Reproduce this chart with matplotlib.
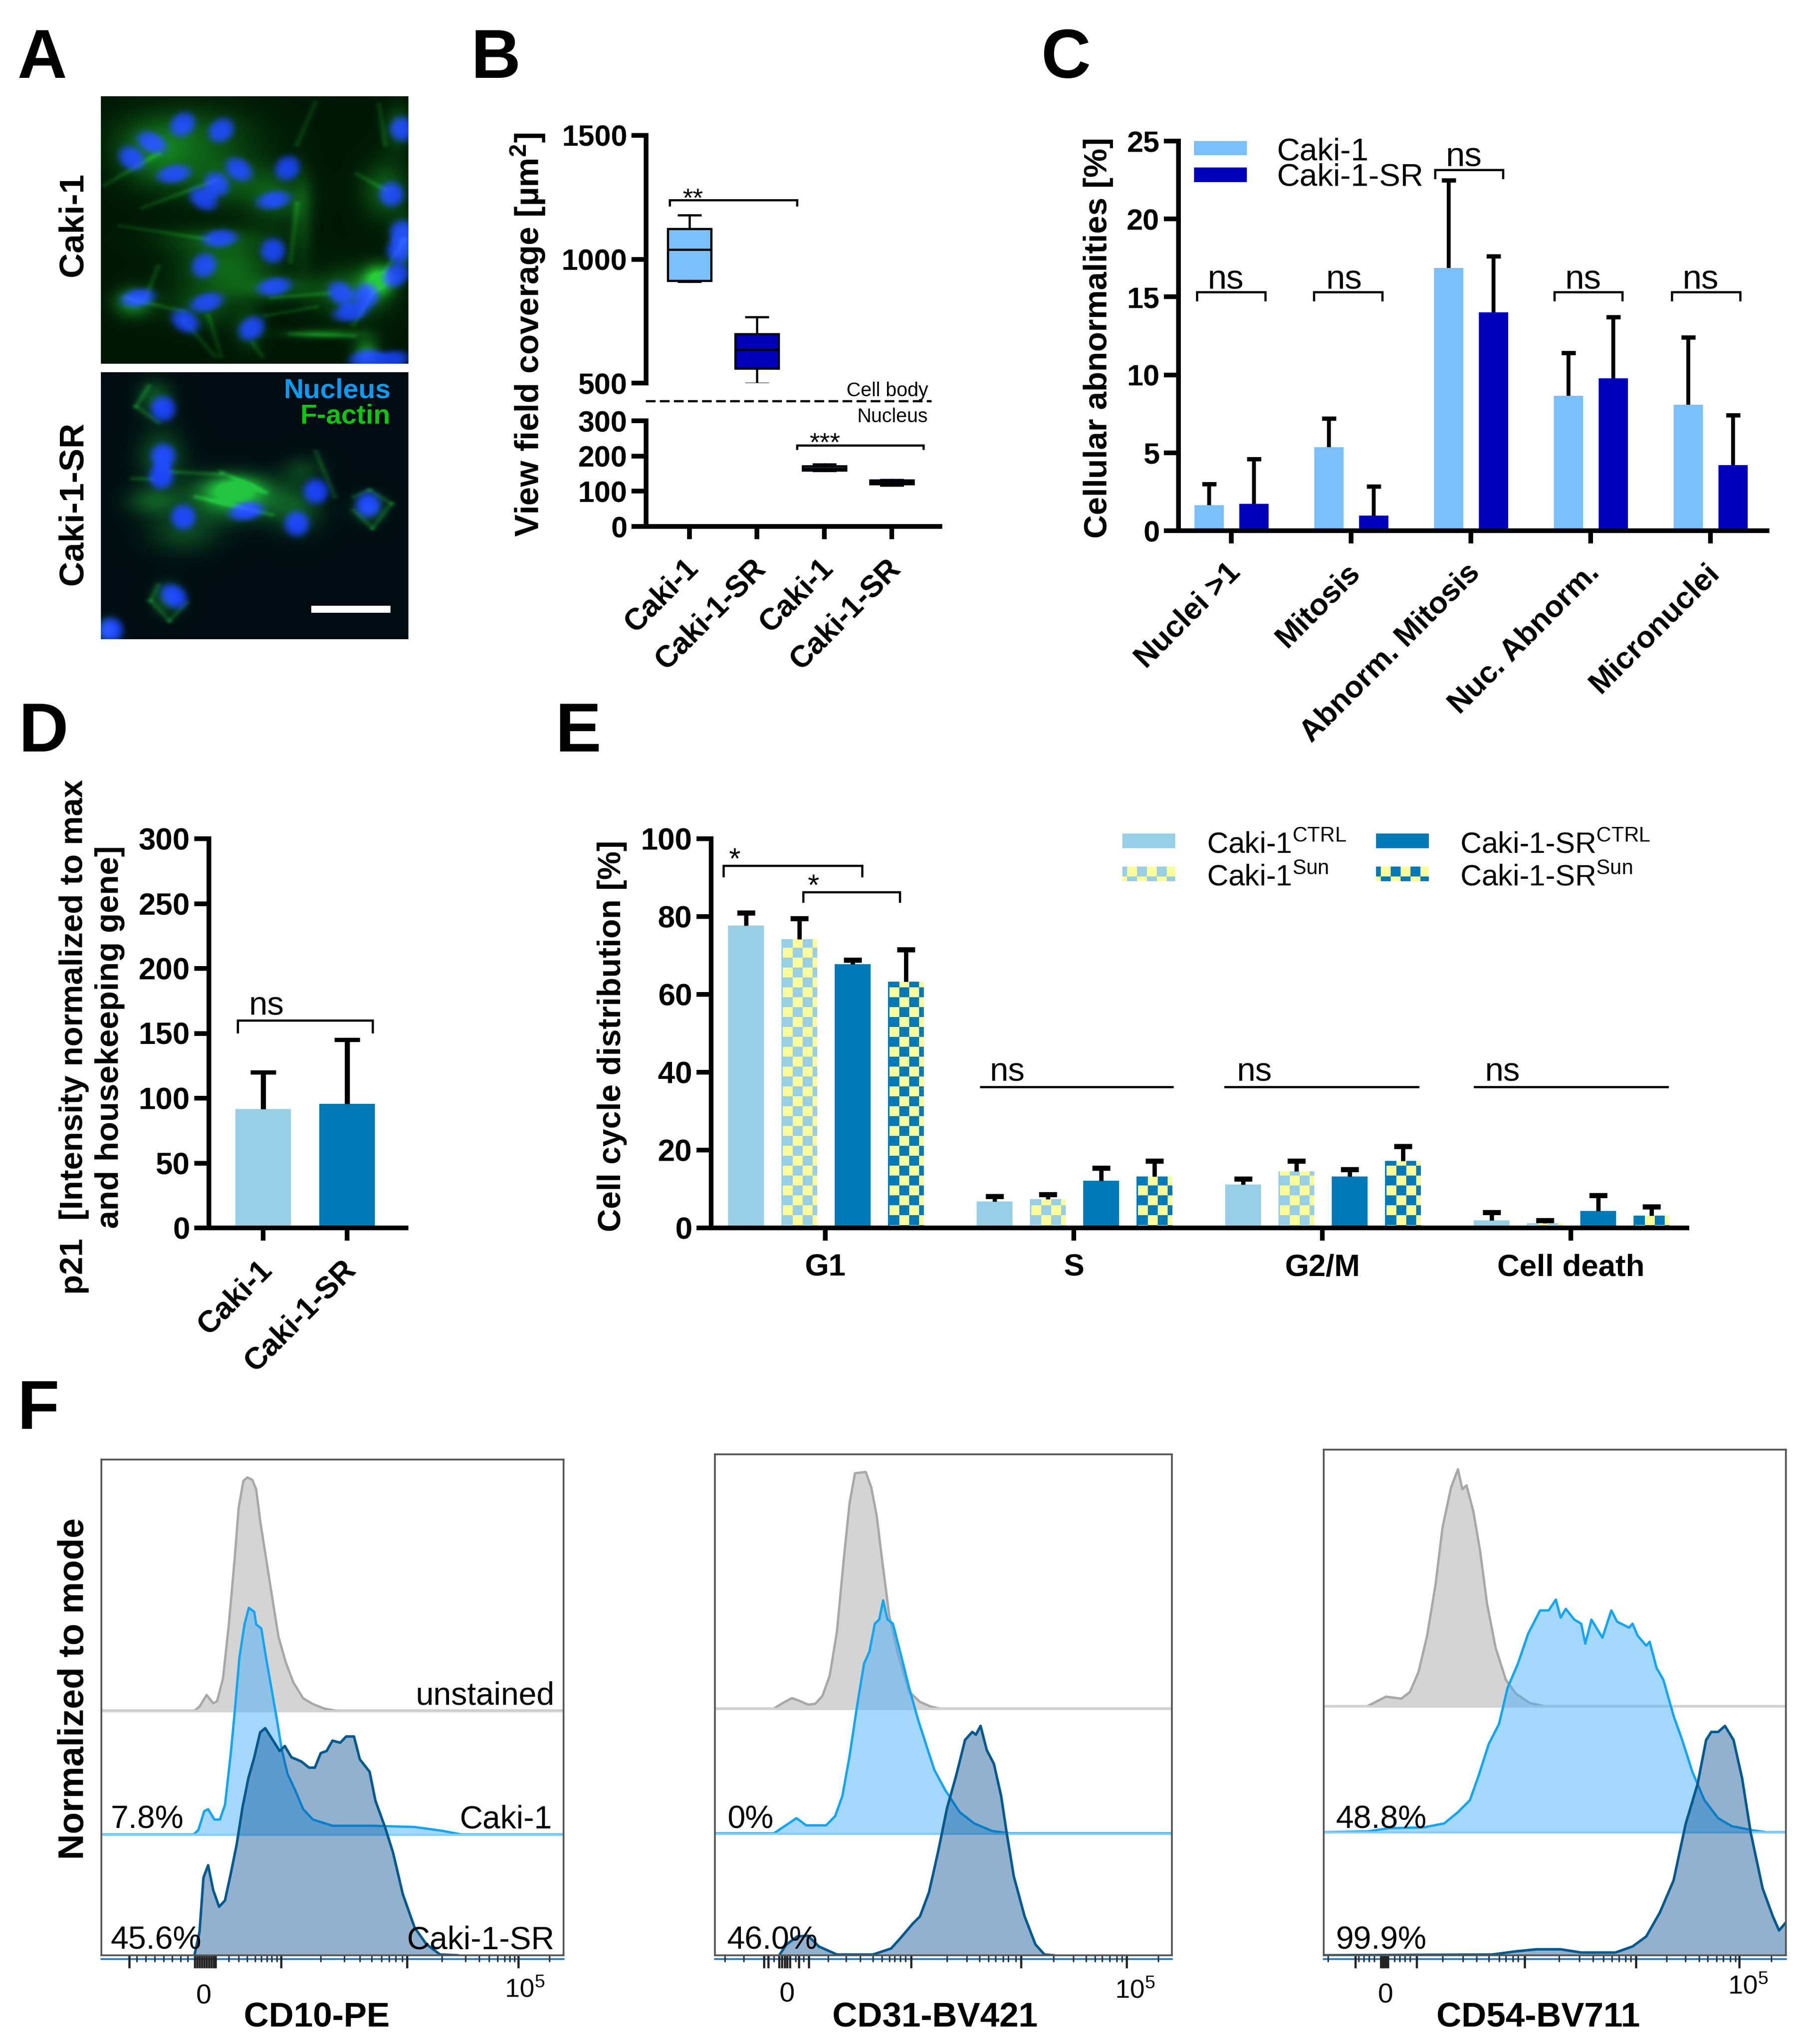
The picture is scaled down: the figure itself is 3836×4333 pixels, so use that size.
import numpy as np
import matplotlib
matplotlib.use('Agg')
import matplotlib.pyplot as plt
from matplotlib.lines import Line2D
from matplotlib.patches import Rectangle

# ---- panel A: things (zoom coordinates)
nuclei_top = [(289,275,15),(350,288,15),(240,315,-40),(208,350,-20),(275,385,70),(378,375,-25),(455,372,10),
  (343,408,-10),(322,440,-30),(433,443,70),(620,430,0),(348,528,80),(432,555,0),(323,588,10),(637,515,0),
  (632,555,0),(627,610,20),(434,635,70),(327,670,60),(218,660,70),(540,650,-20),(580,655,0),(555,692,70),
  (293,712,-30),(398,728,20),(637,285,0),(580,795,70),(620,798,70)]
bodies_top = [(300,300,110,70,.42),(240,350,60,70,.38),(350,400,80,60,.4),(440,440,50,60,.38),(610,420,40,70,.45),
  (340,530,100,32,.33),(360,590,80,50,.5),(430,640,80,30,.35),(210,670,32,35,.65),(320,680,60,50,.35),
  (560,650,60,60,.5),(600,620,25,35,.95),(395,730,25,50,.3),(580,780,22,35,.6),(640,540,20,50,.6),
  (510,740,60,12,.45),(630,280,22,50,.4),(480,480,16,110,.25)]
fibres_top = [((190,500),(330,530)),((470,450),(460,580)),((565,385),(610,420)),((640,530),(560,720)),
  ((200,660),(290,690)),((330,700),(350,790)),((470,320),(500,225)),((430,660),(520,650)),((420,700),(500,680)),
  ((600,230),(610,320)),((250,340),(165,410)),((250,590),(230,660)),((290,710),(340,790)),((460,740),(560,745)),
  ((225,460),(340,400)),((400,760),(415,790))]
nuclei_bot = [(258,905,0),(258,1010,0),(255,1055,0),(290,1145,0),(390,1132,70),(500,1088,0),(470,1160,0),
  (583,1118,0),(275,1320,-20),(175,1395,0)]
bodies_bot = [(245,880,30,42,.45),(255,1010,40,65,.45),(370,1100,70,50,.85),(370,1080,45,28,.5),(290,1180,60,50,.38),
  (470,1130,45,55,.42),(480,1040,35,35,.3),(585,1125,26,32,.5),(265,1325,25,36,.5),(170,1395,16,24,.7),(240,1110,45,35,.42)]
fibres_bot = [((250,1295),(238,1330)),((238,1330),(268,1375)),((268,1375),(295,1335)),((560,1100),(585,1085)),
  ((585,1085),(620,1115)),((620,1115),(590,1170)),((590,1170),(560,1130)),((270,1045),(350,1050)),((235,855),(215,900)),
  ((215,900),(250,935)),((310,1100),(430,1140)),((350,1045),(420,1090)),((240,1060),(210,1060)),((530,1100),(500,1000))]

# ---- panel B
b_labels = ['Caki-1', 'Caki-1-SR', 'Caki-1', 'Caki-1-SR']
b_med = [1040, 635, 165, 125]
b_q1 = [914, 559, 160, 120]
b_q3 = [1122, 698, 171, 131]
b_lo = [910, 498, 158, 116]
b_hi = [1178, 766, 177, 133]

# ---- panel C
c_labels = ['Nuclei >1', 'Mitosis', 'Abnorm. Mitosis', 'Nuc. Abnorm.', 'Micronuclei']
c_caki = [1.64, 5.36, 16.87, 8.67, 8.08]
c_caki_top = [3.0, 7.2, 22.5, 11.4, 12.4]
c_sr = [1.73, 0.96, 14.0, 9.78, 4.2]
c_sr_top = [4.6, 2.85, 17.6, 13.7, 7.43]

# ---- panel D
d_labels = ['Caki-1', 'Caki-1-SR']
d_vals = [91.5, 95.5]
d_tops = [120, 145]

# ---- panel E
e_labels = ['G1', 'S', 'G2/M', 'Cell death']
e_ctrl = [77.7, 6.75, 11.2, 2.0]
e_ctrl_top = [81, 8.1, 12.6, 4.0]
e_sun = [74.2, 7.4, 14.5, 1.25]
e_sun_top = [79.5, 8.6, 17.2, 2.0]
e_sr = [67.8, 12.1, 13.2, 4.4]
e_sr_top = [68.8, 15.4, 15, 8.4]
e_srsun = [63.3, 13.2, 17.2, 3.2]
e_srsun_top = [71.5, 17.2, 21, 5.4]

# ---- panel F, histograms: x is channel as read, h is height above each trace's baseline
f1_gray_x = [259,497,510,528,545,555,570,585,600,610,622,632,645,655,665,680,695,712,730,750,775,800,830,860,1441]
f1_gray_h = [0,0,10,38,18,23,78,208,368,488,553,562,556,533,458,368,278,178,118,68,30,16,5,0,0]
f1_blue_x = [259,495,507,522,532,548,562,575,590,600,612,625,636,650,655,668,680,695,708,720,735,755,775,800,850,950,1060,1130,1180,1441]
f1_blue_h = [0,0,11,56,61,36,36,71,196,296,426,506,546,536,506,496,426,346,276,206,146,106,61,36,21,21,18,9,0,0]
f1_dark_x = [497,510,520,532,545,560,575,590,605,620,635,650,665,678,695,715,728,745,770,790,805,820,835,850,870,885,905,920,945,960,985,1005,1030,1060,1090,1125,1170]
f1_dark_h = [0,57,187,217,157,117,132,197,267,357,427,477,537,547,522,492,504,477,467,452,452,487,492,517,512,527,527,472,442,372,307,247,147,67,27,2,0]

f2_gray_x = [152,315,340,365,385,410,430,450,470,490,510,525,540,570,585,600,615,635,660,690,720,750,775,1418]
f2_gray_h = [0,0,14,26,20,10,12,32,82,192,382,512,587,590,552,482,372,232,132,42,17,5,0,0]
f2_blue_x = [152,315,345,378,405,460,485,505,525,545,565,580,595,607,618,630,645,665,690,715,740,760,790,830,870,920,970,1418]
f2_blue_h = [0,0,18,38,20,20,43,93,193,313,423,453,523,533,581,533,523,453,363,283,213,158,108,53,25,6,0,0]
f2_dark_x = [330,350,380,410,440,490,590,640,670,700,720,745,770,795,820,845,865,875,888,905,925,945,960,980,1010,1040,1065,1090]
f2_dark_h = [0,27,47,49,22,2,2,17,47,79,97,157,257,367,447,537,557,550,572,512,477,397,307,197,97,27,2,0]

f3_gray_x = [148,275,300,330,375,400,425,450,475,495,520,540,553,565,585,605,625,650,680,710,750,795,1498]
f3_gray_h = [0,0,11,24,19,36,86,176,306,446,546,591,541,551,486,386,256,146,66,31,8,0,0]
f3_blue_x = [148,275,340,440,500,540,575,600,630,660,685,715,745,780,805,826,840,855,880,900,912,930,962,988,1005,1040,1050,1065,1090,1100,1120,1140,1170,1195,1225,1260,1300,1340,1400,1440,1498]
f3_blue_h = [0,2,10,12,22,50,80,140,220,270,360,420,495,553,553,580,535,557,530,520,470,530,485,553,525,510,520,490,465,475,410,380,290,230,150,80,35,15,5,0,0]
f3_dark_x = [148,640,710,770,840,900,1000,1050,1090,1130,1170,1205,1240,1265,1280,1300,1320,1345,1370,1395,1430,1460,1478,1498]
f3_dark_h = [0,2,10,15,15,7,7,22,47,107,187,327,427,537,557,557,572,537,442,307,167,97,62,82]

f1_major = [330,498,504,510,516,522,528,534,540,546,551,718,1040,1325]
f1_minor = [350,372,395,418,440,462,480,585,610,632,652,668,682,695,708,820,880,920,950,975,995,1012,1028,1130,1190,1225,1250,1272,1290,1303,1315,1405]
f2_major = [288,300,330,338,345,352,360,385,412,695,1000,1292]
f2_minor = [180,232,315,375,398,465,515,555,590,615,635,650,665,680,795,850,885,910,930,950,965,985,1090,1145,1180,1205,1225,1245,1265,1280,1380]
f3_major = [240,315,320,325,330,335,420,735,1060,1362]
f3_minor = [160,250,265,280,295,355,370,385,400,495,555,595,630,660,680,700,715,835,895,935,965,990,1010,1030,1045,1150,1205,1245,1270,1295,1315,1335,1350,1455]

W, H = 3837, 4333
BLUE_L, BLUE_D = '#7bbffb', '#0000bb'
CY_L, CY_D = '#98cfe6', '#0079b8'
YEL = '#fdfd99'
LW = 2.4

plt.rcParams['font.family'] = ['Liberation Sans', 'DejaVu Sans']
plt.rcParams['mathtext.fontset'] = 'custom'
plt.rcParams['mathtext.rm'] = 'Liberation Sans'
plt.rcParams['mathtext.bf'] = 'Liberation Sans:bold'
plt.rcParams['mathtext.default'] = 'regular'

fig = plt.figure(figsize=(W / 300, H / 300), dpi=300)


def add_ax(x0, y0, x1, y1):
  return fig.add_axes([x0 / W, 1 - y1 / H, (x1 - x0) / W, (y1 - y0) / H])


def txt(x, y, s, **kw):
  return fig.text(x / W, 1 - y / H, s, **kw)


def prism(ax, size=15.7):
  ax.spines['top'].set_visible(False)
  ax.spines['right'].set_visible(False)
  for s in ('left', 'bottom'):
    ax.spines[s].set_linewidth(LW)
    ax.spines[s].set_zorder(6)
  ax.tick_params(width=LW, length=7.4, pad=2.2, labelsize=size)


def bold_ticks(ax):
  plt.setp(ax.get_xticklabels(), fontweight='bold')
  plt.setp(ax.get_yticklabels(), fontweight='bold')


def rot_labels(ax, ticks, labels, size=15.5):
  # slanted labels sit a little right of the tick, so they are placed by hand
  ax.set_xticks(ticks)
  ax.set_xticklabels([])
  for t, lab in zip(ticks, labels):
    ax.annotate(lab, (t, 0), xycoords=('data', 'axes fraction'), xytext=(2.2, -19), textcoords='offset points',
                rotation=45, ha='right', va='center', rotation_mode='anchor', fontsize=size, fontweight='bold')


def up_err(ax, x, y, top, ms, mew, lw):
  ax.vlines(x, y, top, color='k', lw=lw, zorder=3)
  ax.plot(x, top, '_', color='k', ms=ms, mew=mew, zorder=3, clip_on=False)


def bracket(ax, x0, x1, y, drop0, drop1=None):
  if drop1 is None:
    drop1 = drop0
  ax.plot([x0, x0, x1, x1], [drop0, y, y, drop1], color='k', lw=1.1, clip_on=False, zorder=4, solid_joinstyle='miter')


def checker(ax, x0, y0, cols, rows, dx, dy, base, clip=None):
  arr = np.zeros((rows, cols, 3))
  c0 = np.array(matplotlib.colors.to_rgb(YEL))
  c1 = np.array(matplotlib.colors.to_rgb(base))
  for r in range(rows):
    for c in range(cols):
      arr[r, c] = c0 if (r + c) % 2 == 0 else c1
  im = ax.imshow(arr, extent=(x0, x0 + cols * dx, y0, y0 + rows * dy), origin='lower', aspect='auto',
                 interpolation='nearest', zorder=2.5)
  if clip is not None:
    im.set_clip_path(clip)
  return im


def micrograph(box, nuclei, bodies, fibres, bg, famp):
  x0, y0, x1, y1 = box
  xx, yy = np.meshgrid(np.arange(x0, x1, 1.5), np.arange(y0, y1, 1.5))
  g = np.zeros_like(xx)
  for cx, cy, rx, ry, a in bodies:
    g += a * np.exp(-((xx - cx) / rx) ** 2 - ((yy - cy) / ry) ** 2)
  for (ax_, ay), (bx, by) in fibres:
    dx, dy = bx - ax_, by - ay
    t = np.clip(((xx - ax_) * dx + (yy - ay) * dy) / (dx * dx + dy * dy), 0, 1)
    d2 = (xx - ax_ - t * dx) ** 2 + (yy - ay - t * dy) ** 2
    g += famp * np.exp(-d2 / 30)
  n = np.zeros_like(xx)
  for cx, cy, ang in nuclei:
    c, s = np.cos(np.radians(ang)), np.sin(np.radians(ang))
    u = (xx - cx) * c + (yy - cy) * s
    v = -(xx - cx) * s + (yy - cy) * c
    n += np.exp(-((u / 20) ** 2 + (v / 28) ** 2) ** 2)
  n = np.clip(n, 0, 1)
  g = np.clip(g, 0, 1) ** 1.25
  img = np.dstack([0.14 * g + 0.08 * n,
                   (bg[1] + 0.72 * g) * (1 - 0.75 * n) + 0.22 * n,
                   bg[2] + 0.18 * g + 0.85 * n])
  return np.clip(img, 0, 1)


# ---------------------------------------------------------------- panel letters
for x, y, s in [(36, 165, 'A'), (998, 165, 'B'), (2208, 165, 'C'), (39, 1593, 'D'), (1177, 1593, 'E'), (36, 3029, 'F')]:
  txt(x, y, s, fontsize=35, fontweight='bold', ha='left', va='baseline')

# ---------------------------------------------------------------- A
a1 = add_ax(214, 204, 866, 771)
a1.imshow(micrograph((160, 213, 647, 806), nuclei_top, bodies_top, fibres_top, (0, .09, .02), .2), aspect='auto', interpolation='bilinear')
a1.axis('off')
a2 = add_ax(214, 789, 866, 1355)
a2.imshow(micrograph((160, 825, 647, 1416), nuclei_bot, bodies_bot, fibres_bot, (0, .05, .07), .24), aspect='auto', interpolation='bilinear')
a2.axis('off')
fig.add_artist(Rectangle((660 / W, 1 - 1299 / H), 168 / W, 15 / H, transform=fig.transFigure, color='white', lw=0))
txt(156, 476, 'Caki-1', rotation=90, fontsize=17.6, fontweight='bold', ha='center', va='center')
txt(156, 1067, 'Caki-1-SR', rotation=90, fontsize=17.6, fontweight='bold', ha='center', va='center')
txt(828, 829, 'Nucleus', color='#0a9bf5', fontsize=14, fontweight='bold', ha='right', va='center')
txt(828, 883, 'F-actin', color='#12c312', fontsize=14, fontweight='bold', ha='right', va='center')

# ---------------------------------------------------------------- B
b_up = add_ax(1370, 287, 1993, 812)
b_dn = add_ax(1370, 892, 1993, 1116)
prism(b_up, 15)
prism(b_dn, 15)
stats = []
for i in range(4):
  stats.append({'med': b_med[i], 'q1': b_q1[i], 'q3': b_q3[i], 'whislo': b_lo[i], 'whishi': b_hi[i], 'fliers': []})
pos = [1, 2, 3, 4]
style = dict(widths=0.64, patch_artist=True, showfliers=False, capwidths=0.32,
             boxprops=dict(linewidth=1.1, edgecolor='k'), medianprops=dict(color='k', linewidth=1.1),
             whiskerprops=dict(color='k', linewidth=1.1), capprops=dict(color='k', linewidth=1.1))
art_up = b_up.bxp(stats[:2], positions=pos[:2], **style)
art_dn = b_dn.bxp(stats[2:], positions=pos[2:], **style)
for art in (art_up, art_dn):
  art['boxes'][0].set_facecolor(BLUE_L)
  art['boxes'][1].set_facecolor(BLUE_D)
for ax in (b_up, b_dn):
  ax.set_xlim(0.357, 4.713)
b_up.set_ylim(500, 1500)
b_dn.set_ylim(0, 300)
b_up.set_yticks([500, 1000, 1500])
b_dn.set_yticks([0, 100, 200, 300])
b_up.spines['bottom'].set_visible(False)
b_up.tick_params(axis='x', bottom=False, labelbottom=False)
rot_labels(b_dn, pos, b_labels, 15.4)
b_dn.tick_params(axis='x', length=6.5)
bold_ticks(b_up)
bold_ticks(b_dn)
bracket(b_up, 0.706, 2.594, 1240, 1219)
b_up.text(1.05, 1213, '**', fontsize=13.5, ha='center', va='baseline')
bracket(b_dn, 2.594, 4.469, 231, 221)
b_dn.text(3.01, 215, '***', fontsize=13.5, ha='center', va='baseline')
fig.add_artist(Line2D([1369 / W, 1975 / W], [1 - 850 / H] * 2, color='k', lw=1.1, dashes=(4.5, 2)))
txt(1968, 840, 'Cell body', fontsize=10, ha='right', va='baseline')
txt(1968, 895, 'Nucleus', fontsize=10, ha='right', va='baseline')
txt(1120, 710, r'View field coverage [µm$^{\mathbf{2}}$]', rotation=90, fontsize=17, fontweight='bold', ha='center', va='center')

# ---------------------------------------------------------------- C
c = add_ax(2499, 299, 3747, 1125)
prism(c, 15)
xc = np.arange(5)
c.bar(xc - 0.185, c_caki, 0.245, color=BLUE_L, zorder=2)
c.bar(xc + 0.19, c_sr, 0.245, color=BLUE_D, zorder=2)
up_err(c, xc - 0.185, c_caki, c_caki_top, 7, 2.2, 2)
up_err(c, xc + 0.19, c_sr, c_sr_top, 7, 2.2, 2)
c.set_xlim(-0.441, 4.472)
c.set_ylim(0, 25)
c.set_yticks([0, 5, 10, 15, 20, 25])
rot_labels(c, xc, c_labels, 15.6)
c.tick_params(axis='x', length=6.5)
bold_ticks(c)
c_br = [(-.288, .284, 15.3, 14.8, -.048, 15.5), (.689, 1.261, 15.3, 14.8, .938, 15.5), (1.701, 2.268, 23.16, 22.63, 1.941, 23.37),
        (2.696, 3.263, 15.3, 14.8, 2.936, 15.5), (3.677, 4.249, 15.3, 14.8, 3.917, 15.5)]
for x0, x1, y, d, tx, ty in c_br:
  bracket(c, x0, x1, y, d)
  c.text(tx, ty, 'ns', fontsize=17.5, ha='center', va='baseline')
for y0, y1, col in [(299, 329, BLUE_L), (355, 386, BLUE_D)]:
  fig.add_artist(Rectangle((2532 / W, 1 - y1 / H), 112 / W, (y1 - y0) / H, transform=fig.transFigure, color=col, lw=0))
txt(2708, 322, 'Caki-1', fontsize=16.2, ha='left', va='center')
txt(2708, 377, 'Caki-1-SR', fontsize=16.2, ha='left', va='center')
txt(2329, 716, 'Cellular abnormalities [%]', rotation=90, fontsize=16.6, fontweight='bold', ha='center', va='center')

# ---------------------------------------------------------------- D
d = add_ax(443, 1778, 861, 2603)
prism(d)
d.bar([0, 1], d_vals, 0.663, color=[CY_L, CY_D], zorder=2)
up_err(d, [0, 1], d_vals, d_tops, 13, 2.2, 2.6)
d.set_xlim(-0.646, 1.702)
d.set_ylim(0, 300)
d.set_yticks(range(0, 301, 50))
rot_labels(d, [0, 1], d_labels, 15.5)
d.tick_params(axis='x', length=6.5)
bold_ticks(d)
bracket(d, -.303, 1.303, 160, 150.8)
d.text(.04, 164, 'ns', fontsize=17, ha='center', va='baseline')
txt(157, 2198, 'p21  [Intensity normalized to max', rotation=90, fontsize=16.6, fontweight='bold', ha='center', va='center')
txt(233, 2198, 'and housekeeping gene]', rotation=90, fontsize=16.6, fontweight='bold', ha='center', va='center')

# ---------------------------------------------------------------- E
e = add_ax(1508, 1778, 3577, 2603)
prism(e)
xe = np.arange(4)
offs = [-.319, -.104, .110, .324]
bw = 0.144
e.bar(xe + offs[0], e_ctrl, bw, color=CY_L, zorder=2)
sun_bars = e.bar(xe + offs[1], e_sun, bw, color=CY_L, zorder=2)
e.bar(xe + offs[2], e_sr, bw, color=CY_D, zorder=2)
srsun_bars = e.bar(xe + offs[3], e_srsun, bw, color=CY_D, zorder=2)
for bars, col in [(sun_bars, CY_L), (srsun_bars, CY_D)]:
  for b in bars:
    rows = int(b.get_height() / 2.545) + 3
    checker(e, b.get_x() + 3 / 527, -1.85, 4, rows, 21 / 527, 2.545, col, clip=b)
up_err(e, xe + offs[0], e_ctrl, e_ctrl_top, 9, 2.6, 2.2)
up_err(e, xe + offs[1], e_sun, e_sun_top, 9, 2.6, 2.2)
up_err(e, xe + offs[2], e_sr, e_sr_top, 9, 2.6, 2.2)
up_err(e, xe + offs[3], e_srsun, e_srsun_top, 9, 2.6, 2.2)
e.set_xlim(-0.459, 3.467)
e.set_ylim(0, 100)
e.set_yticks(range(0, 101, 20))
e.set_xticks(xe)
e.set_xticklabels(e_labels, fontsize=15.7)
e.tick_params(axis='x', length=6.5, pad=6.5)
bold_ticks(e)
bracket(e, -.41, .148, 93.1, 90.4)
bracket(e, -.089, .30, 86.3, 83.9)
e.text(-.363, 92.4, '*', fontsize=15, ha='center', va='baseline')
e.text(-.047, 85.6, '*', fontsize=15, ha='center', va='baseline')
for x0, x1, tx in [(.626, 1.397, .733), (1.609, 2.385, 1.727), (2.613, 3.389, 2.725)]:
  e.plot([x0, x1], [36.2, 36.2], color='k', lw=1.1)
  e.text(tx, 37.7, 'ns', fontsize=17, ha='center', va='baseline')
txt(1298, 2196, 'Cell cycle distribution [%]', rotation=90, fontsize=16.3, fontweight='bold', ha='center', va='center')
# legend swatches
for x0, y0, col, chk in [(2380, 1767, CY_L, False), (2918, 1767, CY_D, False), (2380, 1837, CY_L, True), (2918, 1837, CY_D, True)]:
  sw = add_ax(x0, y0, x0 + 112, y0 + 31)
  sw.axis('off')
  sw.set_xlim(0, 112)
  sw.set_ylim(0, 31)
  if chk:
    checker(sw, -11, -11, 6, 2, 21, 21, col)
    sw.set_xlim(0, 112)
    sw.set_ylim(0, 31)
  else:
    sw.add_patch(Rectangle((0, 0), 112, 31, color=col, lw=0))
leg_text = [(2559, 1808, r'Caki-1$^{CTRL}$'), (3096, 1808, r'Caki-1-SR$^{CTRL}$'), (2559, 1877, r'Caki-1$^{Sun}$'), (3096, 1877, r'Caki-1-SR$^{Sun}$')]
for x, y, s in leg_text:
  txt(x, y, s, fontsize=15, ha='left', va='baseline')

# ---------------------------------------------------------------- F
GRAY_F, GRAY_E = '#d4d4d4', '#a8a8a8'
panels = [
  dict(box=(215, 3094, 1195, 4145), xlim=(259, 1441), ytop=1194, off=(589, 291),
       gray=(f1_gray_x, f1_gray_h), blue=(f1_blue_x, f1_blue_h), dark=(f1_dark_x, f1_dark_h),
       major=f1_major, minor=f1_minor),
  dict(box=(1516, 3083, 2485, 4145), xlim=(152, 1418), ytop=1249, off=(615, 304),
       gray=(f2_gray_x, f2_gray_h), blue=(f2_blue_x, f2_blue_h), dark=(f2_dark_x, f2_dark_h),
       major=f2_major, minor=f2_minor),
  dict(box=(2807, 3073, 3787, 4145), xlim=(148, 1498), ytop=1261, off=(621, 307),
       gray=(f3_gray_x, f3_gray_h), blue=(f3_blue_x, f3_blue_h), dark=(f3_dark_x, f3_dark_h),
       major=f3_major, minor=f3_minor),
]
for p in panels:
  ax = add_ax(*p['box'])
  gx, gh = np.array(p['gray'][0]), np.array(p['gray'][1]) + p['off'][0]
  bx, bh = np.array(p['blue'][0]), np.array(p['blue'][1]) + p['off'][1]
  dx, dh = np.array(p['dark'][0]), np.array(p['dark'][1])
  ax.fill_between(gx, p['off'][0], gh, color=GRAY_F, lw=0, zorder=1)
  ax.plot(gx, gh, color=GRAY_E, lw=1.2, zorder=1.2)
  ax.plot(p['xlim'], [p['off'][0]] * 2, color='#d2d2d2', lw=1.2, zorder=1.3)
  ax.fill_between(bx, p['off'][1], bh, color=(77 / 255, 177 / 255, 251 / 255), alpha=0.5, lw=0, zorder=2)
  ax.plot(bx, bh, color='#12a5f2', lw=1.2, zorder=2.2)
  ax.plot(p['xlim'], [p['off'][1]] * 2, color='#85cdfb', lw=1.1, zorder=2.3)
  ax.fill_between(dx, 0, dh, color=(0, 76 / 255, 143 / 255), alpha=0.43, lw=0, zorder=3)
  ax.plot(dx, dh, color='#04598f', lw=1.3, zorder=3.2)
  ax.plot(p['xlim'], [-9, -9], color='#2f78b0', lw=0.9, clip_on=False, zorder=1)
  ax.set_xlim(*p['xlim'])
  ax.set_ylim(0, p['ytop'])
  ax.set_yticks([])
  ax.set_xticks(p['major'])
  ax.set_xticks(p['minor'], minor=True)
  ax.set_xticklabels([])
  ax.tick_params(axis='x', which='major', length=6.5, width=1.1, color='#222222')
  ax.tick_params(axis='x', which='minor', length=3.4, width=0.8, color='#333333')
  for s in ax.spines.values():
    s.set_linewidth(0.9)
    s.set_color('#555555')
    s.set_zorder(5)

F_SIZE = 16.3
txt(1176, 3613, 'unstained', fontsize=F_SIZE, ha='right', va='baseline', zorder=10)
txt(1171, 3876, 'Caki-1', fontsize=F_SIZE, ha='right', va='baseline', zorder=10)
txt(1176, 4132, 'Caki-1-SR', fontsize=F_SIZE, ha='right', va='baseline', zorder=10)
for x, y, s in [(235, 3876, '7.8%'), (235, 4132, '45.6%'), (1542, 3876, '0%'), (1542, 4131, '46.0%'), (2833, 3876, '48.8%'), (2833, 4131, '99.9%')]:
  txt(x, y, s, fontsize=F_SIZE, ha='left', va='baseline', zorder=10)
for x, y in [(432, 4232), (1669, 4229), (2938, 4231)]:
  txt(x, y, '0', fontsize=14, ha='center', va='center')
for x, y in [(1070, 4233), (2364, 4235), (3664, 4226)]:
  txt(x, y, r'10$^{5}$', fontsize=13.5, ha='left', va='baseline')
for x, s in [(672, 'CD10-PE'), (1983, 'CD31-BV421'), (3262, 'CD54-BV711')]:
  txt(x, 4295, s, fontsize=17.6, fontweight='bold', ha='center', va='baseline')
txt(158, 3580, 'Normalized to mode', rotation=90, fontsize=18.2, fontweight='bold', ha='center', va='center')

fig.savefig('out.png', dpi=300)
